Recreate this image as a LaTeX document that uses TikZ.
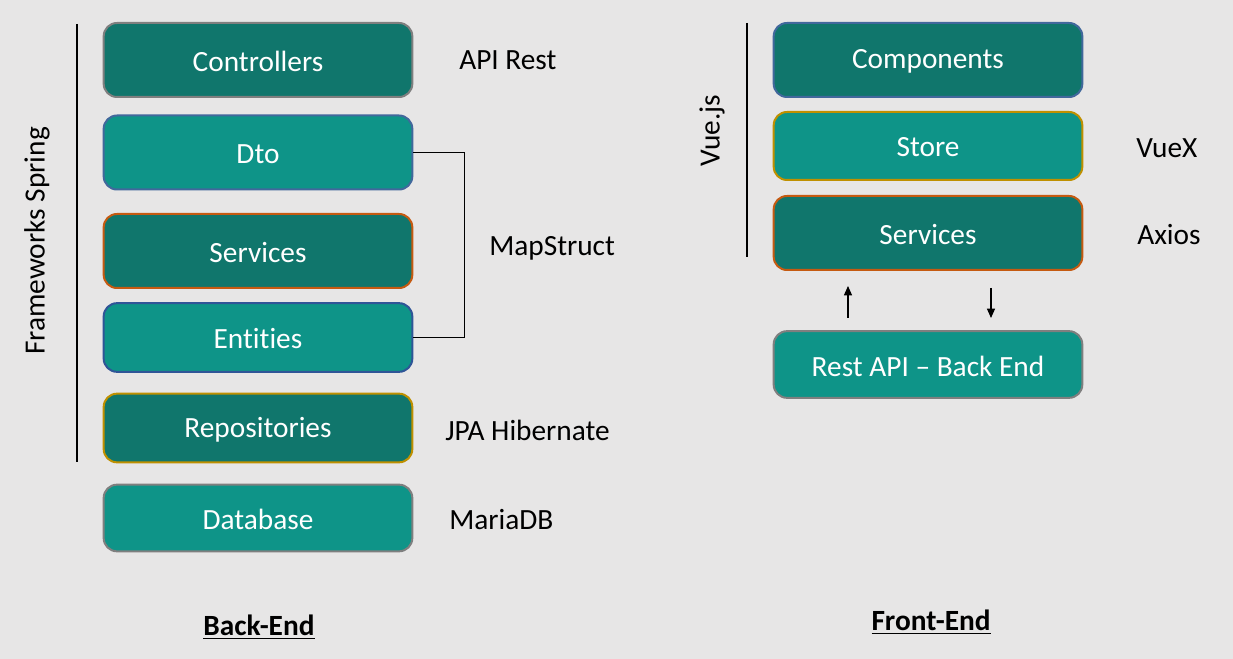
\documentclass[tikz,border=0pt]{standalone}
\usepackage{fontspec}
\setmainfont{Carlito}[Ligatures=NoCommon]
\usetikzlibrary{arrows.meta}
\definecolor{bg}{HTML}{E7E6E6}
\definecolor{darkteal}{HTML}{10766C}
\definecolor{lightteal}{HTML}{0E9488}
\definecolor{bgray}{HTML}{7F7F7F}
\definecolor{bblue}{HTML}{41689C}
\definecolor{bnavy}{HTML}{2F5597}
\definecolor{borange}{HTML}{C55A11}
\definecolor{bgold}{HTML}{BF9000}
\newcommand{\lowtx}[1]{\raisebox{-1.1pt}[\height][\depth]{#1}}
\tikzset{
  layer/.style={rounded corners=10, line width=1.5, minimum width=231.5pt, text=white, font=\fontsize{22}{26}\selectfont, inner sep=0},
  dk/.style={layer, fill=darkteal},
  lt/.style={layer, fill=lightteal},
  lbl/.style={anchor=west, inner sep=0, font=\fontsize{22}{26}\selectfont},
  ttl/.style={inner sep=0, font=\fontsize{22}{26}\selectfont\bfseries},
  sep/.style={line width=0.9, black},
  flow/.style={line width=0.9, -{Triangle[length=7pt,width=6pt]}},
}
\begin{document}
\begin{tikzpicture}[x=0.75pt,y=-0.75pt]
\useasboundingbox[fill=bg] (0,0) rectangle (1233,659);
% Back-end
\node[dk, draw=bgray,   minimum height=55.5pt] (ctrl) at (258,60)  {\lowtx{Controllers}};
\node[lt, draw=bblue,   minimum height=55.5pt] (dto)  at (258,152.5) {\lowtx{Dto}};
\node[dk, draw=borange, minimum height=55.5pt] (serv) at (258,251) {\lowtx{Services}};
\node[lt, draw=bnavy,   minimum height=51.5pt] (ent)  at (258,337.5) {\lowtx{Entities}};
\node[dk, draw=bgold,   minimum height=51.5pt] (repo) at (258,428) {\lowtx{Repositories}};
\node[lt, draw=bgray,   minimum height=50pt]   (db)   at (258,518) {\lowtx{Database}};
\draw[line width=0.75] (dto.east) -- ++(51,0) |- (ent.east);
\coordinate (ls1) at (77,24);
\coordinate (ls2) at (77,462);
\draw[sep] (ls1) -- (ls2);
\node[inner sep=0, rotate=90, font=\fontsize{22}{26}\selectfont] (fs) at (37,241) {Frameworks Spring};
\node[lbl] (l1) at (459,60) {API Rest};
\node[lbl] (l2) at (489,248) {MapStruct};
\node[lbl] (l3) at (445,430) {JPA Hibernate};
\node[lbl] (l4) at (449,520) {MariaDB};
\node[ttl] (be) at (259,627) {\underline{Back-End}};
% Front-end
\node[dk, draw=bblue,   minimum height=55.5pt] (comp)  at (928,60)  {\lowtx{Components}};
\node[lt, draw=bgold,   minimum height=51pt]   (store) at (928,146) {\lowtx{Store}};
\node[dk, draw=borange, minimum height=55.5pt] (fserv) at (928,233) {\lowtx{Services}};
\node[lt, draw=bgray,   minimum height=50pt]   (rest)  at (928,364.5) {\lowtx{Rest API – Back End}};
\coordinate (vs1) at (747,23);
\coordinate (vs2) at (747,257);
\draw[sep] (vs1) -- (vs2);
\node[inner sep=0, rotate=90, font=\fontsize{22}{26}\selectfont] (vue) at (712,131) {Vue.js};
\node[lbl] (l5) at (1136,148) {VueX};
\node[lbl] (l6) at (1137,235) {Axios};
\coordinate (a1s) at (848,318);
\coordinate (a1e) at (848,286);
\coordinate (a2s) at (991,288);
\coordinate (a2e) at (991,318);
\draw[flow] (a1s) -- (a1e);
\draw[flow] (a2s) -- (a2e);
\node[ttl] (fe) at (931,622) {\underline{Front-End}};
\end{tikzpicture}
\end{document}
